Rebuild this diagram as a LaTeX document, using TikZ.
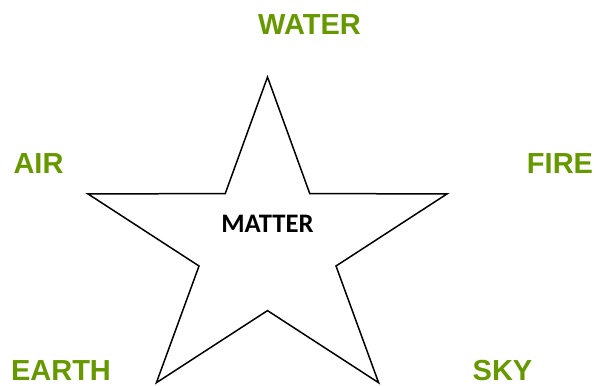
\documentclass[tikz,border=0pt]{standalone}
\usepackage{fontspec}
\setsansfont{Liberation Sans}
\newfontfamily\carlito{Carlito}
\usepackage{tikz}
\usetikzlibrary{calc}
\definecolor{elemgreen}{RGB}{102,153,0}
\tikzset{
  starline/.style={draw=black,fill=white,line width=1.5pt,line join=miter},
  elemtext/.style={text=elemgreen,font=\sffamily\bfseries\fontsize{29}{29}\selectfont,inner sep=0pt},
  centretext/.style={text=black,font=\carlito\bfseries\fontsize{26.7}{26.7}\selectfont,inner sep=0pt},
}
\begin{document}
\begin{tikzpicture}[x=1pt,y=-1pt]
        \useasboundingbox (0,0) rectangle (596,385);
        % the star, pixel coordinates
        \draw[starline] (267.5,77) -- (309.8,193.7) -- (447.2,193.8) -- (336,266)
          -- (378.6,382.7) -- (267.5,310.6) -- (156.4,382.7) -- (199,266)
          -- (87.8,193.8) -- (225.2,193.7) -- cycle;
        \node[centretext] (matter) at (267.5,223.7) {MATTER};
        % the five elements
        \node[elemtext] (water) at (309.5,24.2) {WATER};
        \node[elemtext] (air) at (38.5,164) {AIR};
        \node[elemtext] (fire) at (560,163.5) {FIRE};
        \node[elemtext] (earth) at (61,371) {EARTH};
        \node[elemtext] (sky) at (502.5,371) {SKY};
      \end{tikzpicture}
\end{document}
